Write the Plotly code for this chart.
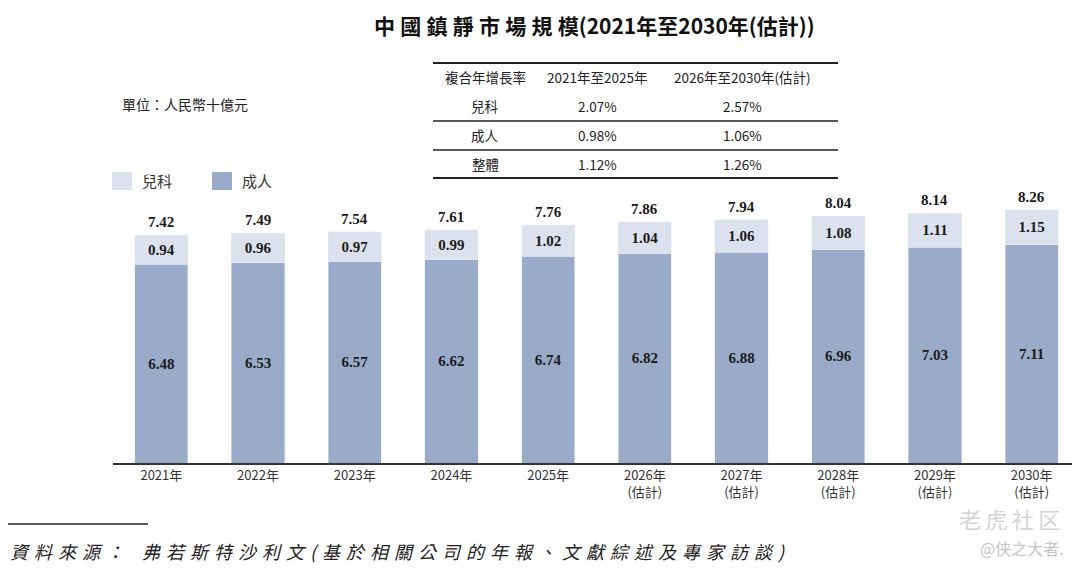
import plotly.graph_objects as go

years = ["2021年", "2022年", "2023年", "2024年", "2025年",
         "2026年<br>(估計)", "2027年<br>(估計)", "2028年<br>(估計)", "2029年<br>(估計)", "2030年<br>(估計)"]
adult = [6.48, 6.53, 6.57, 6.62, 6.74, 6.82, 6.88, 6.96, 7.03, 7.11]
pediatric = [0.94, 0.96, 0.97, 0.99, 1.02, 1.04, 1.06, 1.08, 1.11, 1.15]
totals = [7.42, 7.49, 7.54, 7.61, 7.76, 7.86, 7.94, 8.04, 8.14, 8.26]

cagr_header = ["複合年增長率", "2021年至2025年", "2026年至2030年(估計)"]
cagr_rows = ["兒科", "成人", "整體"]
cagr_2125 = ["2.07%", "0.98%", "1.12%"]
cagr_2630 = ["2.57%", "1.06%", "1.26%"]

ADULT_COLOR = "#9aabc9"
PED_COLOR = "#dce2ed"

# page has an 8px body margin, so the figure is drawn 8px in from the corner
OFF = 8
W, H = 1072, 565
L, R, T, B = 105, 0, 179, 110
NUM_FONT = "Liberation Serif, Noto Sans CJK TC"
CJK_FONT = "Noto Sans CJK TC, Noto Sans CJK SC"

def px(x):
    return (x - OFF - L) / (W - L - R)

def py(y):
    return (H - B - (y - OFF)) / (H - T - B)

def spaced(s, sep="\u2004"):
    return sep.join(s)

def note(x, y, text, size, color="#222", xanchor="center", family=CJK_FONT):
    fig.add_annotation(xref="paper", yref="paper", x=px(x), y=py(y), text=text,
                       showarrow=False, xanchor=xanchor, yanchor="middle",
                       font=dict(family=family, size=size, color=color))

def hline(x0, x1, y, w, color="#222"):
    fig.add_shape(type="line", xref="paper", yref="paper", x0=px(x0), x1=px(x1),
                  y0=py(y), y1=py(y), line=dict(color=color, width=w))

fig = go.Figure()
fig.add_trace(go.Bar(x=years, y=adult, name="成人", marker_color=ADULT_COLOR,
                     text=[f"{v:.2f}" for v in adult], textposition="inside",
                     insidetextanchor="middle", showlegend=False,
                     textfont=dict(family=NUM_FONT, size=15, color="#1a1a1a")))
fig.add_trace(go.Bar(x=years, y=pediatric, name="兒科", marker_color=PED_COLOR,
                     text=[f"{v:.2f}" for v in pediatric], textposition="inside",
                     insidetextanchor="middle", showlegend=False,
                     textfont=dict(family=NUM_FONT, size=15, color="#1a1a1a")))
fig.update_traces(texttemplate="<b>%{text}</b>")

for yr, t in zip(years, totals):
    fig.add_annotation(x=yr, y=t, text=f"<b>{t:.2f}</b>", showarrow=False,
                       yanchor="bottom", yshift=3,
                       font=dict(family=NUM_FONT, size=15, color="#1a1a1a"))

# title and unit
note(594, 25, "<b>" + spaced("中國鎮靜市場規模", "\u2005") + "(2021年至2030年(估計))</b>", 21, "#111")
note(120, 104, "單位：人民幣十億元", 14, xanchor="left")

# legend
for x0, label, color in [(112, "兒科", PED_COLOR), (212, "成人", ADULT_COLOR)]:
    fig.add_shape(type="rect", xref="paper", yref="paper", x0=px(x0), x1=px(x0 + 20),
                  y0=py(190), y1=py(172), fillcolor=color, line=dict(width=0))
    note(x0 + 28, 181, label, 15, "#333", xanchor="left")

# CAGR table
col_x = [485, 597, 742]
row_y = [77, 106, 135, 164]
for yl, w in [(63, 2), (121, 1.5), (150, 1.5), (178, 2)]:
    hline(433, 838, yl, w)
for cx, txt in zip(col_x, cagr_header):
    note(cx, row_y[0], txt, 13.5)
for i in range(3):
    for cx, txt in zip(col_x, [cagr_rows[i], cagr_2125[i], cagr_2630[i]]):
        note(cx, row_y[i + 1], txt, 13.5)

# source note and watermarks
hline(8, 148, 524, 1.5)
note(8, 551, "<i>" + spaced("資料來源：") + "\u2003" +
     spaced("弗若斯特沙利文(基於相關公司的年報、文獻綜述及專家訪談)") + "</i>", 18, xanchor="left")
note(1066, 548, "@侠之大者.", 16, "#c4c4c4", xanchor="right")
note(1062, 518, "\u2009".join("老虎社区"), 22, "#d4d4d4", xanchor="right")

fig.update_layout(
    width=W, height=H, barmode="stack", bargap=0.45,
    margin=dict(l=L, r=R, t=T, b=B),
    plot_bgcolor="white", paper_bgcolor="white",
    uniformtext=dict(minsize=10, mode="show"),
)
fig.update_xaxes(showline=True, linecolor="#333", linewidth=1.5, ticks="",
                 tickfont=dict(family=CJK_FONT, size=13, color="#333"))
fig.update_yaxes(range=[0, 9], visible=False)

fig.write_html("out.html")
